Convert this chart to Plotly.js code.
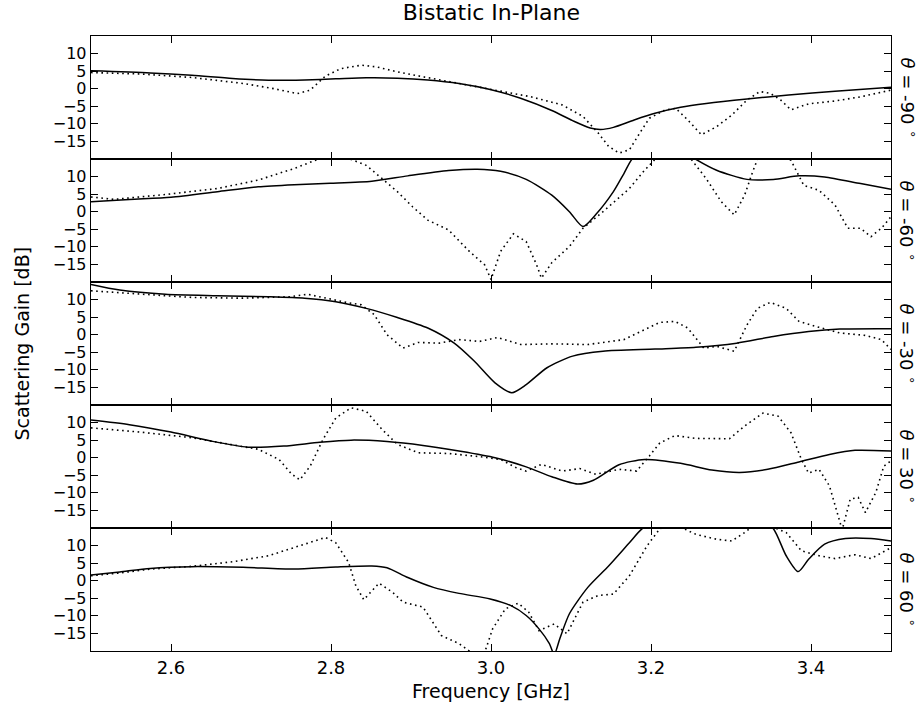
<!DOCTYPE html>
<html>
<head>
<meta charset="utf-8">
<script src="https://cdn.plot.ly/plotly-3.0.1.min.js"></script>
<style>html,body{margin:0;padding:0;background:#fff;}#chart{width:922px;height:707px;}</style>
</head>
<body>
<div id="chart"></div>
<script>
// Panel labels (top to bottom)
const panelLabels = ["-90", "-60", "-30", "30", "60"];
const xTickVals = [2.6, 2.8, 3.0, 3.2, 3.4];
const yTickVals = [-15, -10, -5, 0, 5, 10];

// theta = -90
const solidX_m90 = [2.5, 2.574, 2.626, 2.677, 2.722, 2.767, 2.806, 2.844, 2.883, 2.921, 2.96, 2.999, 3.037, 3.076, 3.102, 3.124, 3.137, 3.153, 3.179, 3.205, 3.237, 3.269, 3.32, 3.372, 3.43, 3.5];
const solidY_m90 = [5.1, 4.5, 3.8, 2.9, 2.4, 2.5, 2.8, 3.1, 3.0, 2.5, 1.5, -0.2, -2.7, -6.2, -9.1, -11.2, -11.6, -11.0, -8.9, -7.0, -5.3, -4.2, -2.9, -1.8, -0.7, 0.4];
const dotX_m90 = [2.5, 2.561, 2.626, 2.69, 2.729, 2.758, 2.774, 2.793, 2.812, 2.838, 2.857, 2.883, 2.915, 2.96, 3.012, 3.05, 3.089, 3.115, 3.134, 3.147, 3.16, 3.173, 3.186, 3.198, 3.218, 3.231, 3.246, 3.263, 3.282, 3.301, 3.32, 3.336, 3.349, 3.362, 3.375, 3.397, 3.43, 3.462, 3.5];
const dotY_m90 = [4.6, 4.2, 3.2, 1.5, 0, -1.4, -0.4, 3.6, 5.7, 6.7, 6.2, 4.8, 3.4, 1.5, -0.8, -2.3, -4.6, -7.9, -12.6, -16.4, -18.3, -17.4, -12.6, -8.4, -6.0, -5.6, -8.9, -13.1, -10.8, -7.5, -3.2, -0.8, -1.3, -3.2, -6.0, -4.3, -3.5, -2.3, -0.4];

// theta = -60
const solidX_m60 = [2.5, 2.548, 2.6, 2.658, 2.709, 2.754, 2.799, 2.851, 2.896, 2.947, 2.983, 3.012, 3.044, 3.076, 3.098, 3.115, 3.131, 3.153, 3.166, 3.177, 3.195, 3.215, 3.235, 3.256, 3.282, 3.32, 3.353, 3.385, 3.417, 3.462, 3.5];
const solidY_m60 = [2.8, 3.5, 4.1, 5.7, 7.1, 7.7, 8.1, 8.7, 10.2, 11.7, 12.1, 11.5, 9.2, 4.7, 0, -4.2, -0.8, 5.7, 10.8, 15.2, 18, 19, 18, 14.9, 11.8, 9.2, 9.2, 10.2, 9.9, 8.0, 6.4];
const dotX_m60 = [2.5, 2.529, 2.593, 2.658, 2.709, 2.754, 2.78, 2.8, 2.825, 2.844, 2.864, 2.883, 2.902, 2.921, 2.947, 2.973, 2.992, 3.0, 3.012, 3.028, 3.044, 3.057, 3.063, 3.076, 3.098, 3.115, 3.14, 3.173, 3.192, 3.205, 3.228, 3.25, 3.269, 3.288, 3.304, 3.317, 3.327, 3.333, 3.354, 3.375, 3.391, 3.41, 3.43, 3.446, 3.462, 3.475, 3.488, 3.5];
const dotY_m60 = [4.2, 3.5, 4.9, 6.6, 9.0, 12.3, 14.6, 15.8, 14.9, 13.2, 9.4, 5.7, 1.4, -2.4, -5.2, -11.3, -15.1, -19.3, -11.3, -6.3, -8.5, -15.1, -18.9, -14.5, -9.9, -4.7, 0, 6.6, 11.8, 14.9, 17, 15, 9.4, 2.8, -0.9, 4.7, 11.3, 14.9, 17, 14.6, 7.5, 6.1, 1.9, -4.7, -4.7, -7.1, -4.7, -1.4];

// theta = -30
const solidX_m30 = [2.5, 2.536, 2.593, 2.658, 2.722, 2.767, 2.806, 2.844, 2.883, 2.921, 2.954, 2.979, 3.005, 3.026, 3.044, 3.07, 3.102, 3.14, 3.205, 3.256, 3.307, 3.353, 3.397, 3.436, 3.5];
const solidY_m30 = [14.3, 12.7, 11.5, 11.1, 10.8, 10.4, 9.4, 7.5, 4.9, 1.9, -2.4, -7.5, -13.7, -16.5, -14.2, -9.4, -6.1, -4.7, -4.1, -3.6, -2.4, -0.5, 0.9, 1.6, 1.7];
const dotX_m30 = [2.5, 2.561, 2.626, 2.69, 2.748, 2.771, 2.793, 2.819, 2.838, 2.854, 2.87, 2.89, 2.909, 2.935, 2.96, 2.986, 3.008, 3.037, 3.076, 3.121, 3.166, 3.192, 3.211, 3.23, 3.246, 3.266, 3.282, 3.304, 3.32, 3.333, 3.349, 3.369, 3.385, 3.41, 3.436, 3.468, 3.488, 3.5];
const dotY_m30 = [12.5, 11.5, 10.6, 10.4, 10.8, 11.5, 10.4, 9.2, 8.5, 5.7, 0, -3.8, -2.2, -2.4, -1.4, -1.9, -0.8, -2.8, -2.6, -2.8, -1.4, 1.4, 3.5, 3.8, 1.9, -3.8, -3.3, -4.7, 2.8, 7.5, 9.2, 7.5, 3.8, 2.1, 0.5, -0.2, -1.4, -4.2];

// theta = 30
const solidX_p30 = [2.5, 2.548, 2.6, 2.651, 2.696, 2.741, 2.786, 2.825, 2.87, 2.915, 2.96, 3.005, 3.044, 3.076, 3.108, 3.128, 3.16, 3.192, 3.237, 3.276, 3.311, 3.346, 3.385, 3.423, 3.455, 3.5];
const solidY_p30 = [10.7, 9.4, 7.3, 4.7, 3.0, 3.3, 4.4, 5.0, 4.6, 3.5, 1.9, 0, -2.6, -5.4, -7.5, -6.4, -2.0, -0.5, -1.6, -3.5, -4.2, -3.3, -1.2, 0.9, 2.1, 1.9];
const dotX_p30 = [2.5, 2.561, 2.626, 2.677, 2.709, 2.735, 2.751, 2.761, 2.774, 2.79, 2.806, 2.825, 2.844, 2.864, 2.883, 2.909, 2.947, 2.986, 3.012, 3.031, 3.044, 3.063, 3.089, 3.111, 3.131, 3.16, 3.182, 3.198, 3.211, 3.23, 3.256, 3.298, 3.317, 3.34, 3.359, 3.375, 3.388, 3.397, 3.41, 3.423, 3.433, 3.439, 3.449, 3.459, 3.468, 3.481, 3.491, 3.5];
const dotY_p30 = [8.5, 7.3, 5.7, 3.8, 2.4, -0.5, -4.7, -6.3, -2.4, 5.2, 11.3, 14.2, 13.2, 8.0, 3.8, 1.4, 1.2, 0.3, -0.5, -2.8, -3.8, -1.9, -3.8, -3.1, -4.7, -3.3, -3.8, 0.5, 4.2, 6.3, 5.5, 5.4, 9.0, 12.7, 11.8, 7.1, -0.5, -4.4, -3.3, -8.0, -15.6, -20.5, -11.8, -11.3, -15.6, -9.9, -2.4, -0.9];

// theta = 60
const solidX_p60 = [2.5, 2.536, 2.574, 2.626, 2.69, 2.754, 2.806, 2.851, 2.87, 2.896, 2.928, 2.96, 2.999, 3.025, 3.044, 3.06, 3.073, 3.079, 3.086, 3.098, 3.121, 3.147, 3.173, 3.189, 3.22, 3.28, 3.33, 3.353, 3.369, 3.384, 3.397, 3.417, 3.443, 3.475, 3.5];
const solidY_p60 = [1.6, 2.5, 3.5, 4.0, 3.8, 3.3, 3.9, 4.2, 3.7, 0.9, -1.9, -3.6, -5.2, -7.1, -9.9, -13.7, -17.9, -21, -16.5, -9.4, -1.9, 4.2, 10.8, 14.8, 19, 20, 19, 14.8, 7.1, 2.6, 6.1, 10.4, 12.0, 12.0, 11.3];
const dotX_p60 = [2.5, 2.536, 2.574, 2.626, 2.677, 2.722, 2.767, 2.793, 2.806, 2.822, 2.831, 2.841, 2.86, 2.877, 2.89, 2.915, 2.938, 2.96, 2.976, 2.992, 3.002, 3.018, 3.034, 3.047, 3.06, 3.079, 3.095, 3.115, 3.134, 3.153, 3.173, 3.195, 3.211, 3.23, 3.256, 3.282, 3.301, 3.317, 3.327, 3.345, 3.369, 3.388, 3.41, 3.43, 3.455, 3.475, 3.5];
const dotY_p60 = [1.4, 2.2, 3.3, 4.1, 5.4, 7.1, 10.4, 12.3, 10.8, 5.2, -1.4, -5.4, -0.7, -3.3, -6.1, -7.5, -15.6, -17.9, -20.5, -20.5, -13.7, -8.0, -6.4, -8.9, -14.2, -12.3, -15.1, -6.1, -4.2, -3.8, 1.4, 9.9, 14.8, 16, 13.2, 11.8, 11.3, 13.7, 15.5, 16, 13.7, 8.5, 7.1, 6.3, 7.4, 6.3, 9.4];

const panels = [
  {sx: solidX_m90, sy: solidY_m90, dx: dotX_m90, dy: dotY_m90},
  {sx: solidX_m60, sy: solidY_m60, dx: dotX_m60, dy: dotY_m60},
  {sx: solidX_m30, sy: solidY_m30, dx: dotX_m30, dy: dotY_m30},
  {sx: solidX_p30, sy: solidY_p30, dx: dotX_p30, dy: dotY_p30},
  {sx: solidX_p60, sy: solidY_p60, dx: dotX_p60, dy: dotY_p60}
];

const FONT = "DejaVu Sans, sans-serif";
const TICK = 16;
const traces = [];
const layout = {
  width: 922, height: 707,
  margin: {l: 91, r: 31, t: 36, b: 56},
  paper_bgcolor: "#fff", plot_bgcolor: "#fff",
  showlegend: false,
  font: {family: FONT, size: TICK, color: "#000"},
  title: {text: "Bistatic In-Plane", font: {family: FONT, size: 22, color: "#000"},
          x: 0.533, xanchor: "center", y: 0.983, yanchor: "middle", yref: "container"},
  annotations: []
};

const n = panels.length;
panels.forEach((p, i) => {
  const k = i + 1;
  const xa = "x" + k, ya = "y" + k;
  traces.push({x: p.dx, y: p.dy, xaxis: xa, yaxis: ya, type: "scatter", mode: "lines",
               line: {color: "#000", width: 1.6, dash: "1.6px,3.6px"}, hoverinfo: "skip"});
  traces.push({x: p.sx, y: p.sy, xaxis: xa, yaxis: ya, type: "scatter", mode: "lines",
               line: {color: "#000", width: 1.5, shape: "spline", smoothing: 0.7}, hoverinfo: "skip"});
  const top = 1 - i / n, bot = 1 - (i + 1) / n;
  layout["xaxis" + k] = {
    anchor: ya, range: [2.5, 3.5], tickvals: xTickVals, tickformat: ".1f",
    showticklabels: k === n, ticks: "inside", ticklen: 7, tickwidth: 1, tickcolor: "#000",
    showline: true, linecolor: "#000", linewidth: 1.3, mirror: "ticks",
    showgrid: false, zeroline: false, fixedrange: true,
    tickfont: {family: FONT, size: 18, color: "#000"}
  };
  if (k !== n) layout["xaxis" + k].matches = "x" + n;
  layout["yaxis" + k] = {
    anchor: xa, domain: [bot, top], range: [-20, 15], tickvals: yTickVals,
    ticks: "inside", ticklen: 7, tickwidth: 1, tickcolor: "#000",
    showline: true, linecolor: "#000", linewidth: 1.3, mirror: "ticks",
    showgrid: false, zeroline: false, fixedrange: true,
    tickfont: {family: FONT, size: TICK, color: "#000"}
  };
  layout.annotations.push({
    xref: "paper", yref: "paper", x: 1, y: (top + bot) / 2, xshift: 17,
    xanchor: "center", yanchor: "middle", textangle: 90, showarrow: false,
    text: "<i>θ</i> = " + panelLabels[i] + " <sup>∘</sup>",
    font: {family: FONT, size: 18, color: "#000"}
  });
});

layout.annotations.push({
  xref: "paper", yref: "paper", x: 0, y: 0.5, xshift: -70, textangle: -90,
  xanchor: "center", yanchor: "middle", showarrow: false,
  text: "Scattering Gain [dB]", font: {family: FONT, size: 19, color: "#000"}
});
layout.annotations.push({
  xref: "paper", yref: "paper", x: 0.5, y: 0, yshift: -40,
  xanchor: "center", yanchor: "middle", showarrow: false,
  text: "Frequency [GHz]", font: {family: FONT, size: 19, color: "#000"}
});

Plotly.newPlot("chart", traces, layout, {staticPlot: true, displayModeBar: false});
</script>
</body>
</html>
